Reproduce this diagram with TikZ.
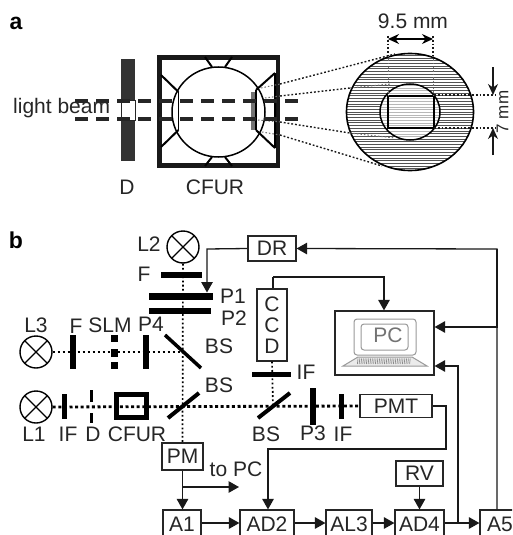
\documentclass[tikz,border=0pt]{standalone}
\usepackage{fontspec}
\setmainfont{Liberation Sans}
\usetikzlibrary{arrows.meta}
\tikzset{
  txt/.style={inner sep=0pt,font=\fontsize{21}{24}\selectfont,text=black!85},
  lab/.style={inner sep=0pt,font=\fontsize{23}{26}\bfseries\selectfont},
  box/.style={draw=black!85,line width=1.2pt,inner sep=0pt,font=\fontsize{21}{24}\selectfont,text=black!85},
  conn/.style={draw=black!90,line width=1.3pt},
  arr/.style={conn,-{Triangle[length=10.5pt,width=11.5pt]}},
  darr/.style={draw=black,line width=1.2pt,{Stealth[length=11pt,width=10pt]}-{Stealth[length=11pt,width=10pt]}},
  bar/.style={fill=black,draw=none,inner sep=0pt},
  lamp/.style={circle,draw=black,line width=1.4pt,minimum size=32pt,inner sep=0pt,
    path picture={\draw[line width=1.4pt] (path picture bounding box.south west)--(path picture bounding box.north east)
    (path picture bounding box.north west)--(path picture bounding box.south east);}},
  beam/.style={draw=black,line width=2.8pt,dash pattern=on 3pt off 2.6pt},
  vbeam/.style={draw=black,line width=1.7pt,dash pattern=on 1.8pt off 2.4pt},
  hbeam/.style={draw=black,line width=2.3pt,dash pattern=on 2.6pt off 2.4pt},
  dash beam/.style={draw=black!85,line width=3.6pt,dash pattern=on 13pt off 8pt},
  zoomline/.style={draw=black!90,line width=1.4pt,dash pattern=on 1.8pt off 2pt},
  thinzoom/.style={draw=black!55,line width=1pt,dash pattern=on 1.5pt off 2pt},
  mirror/.style={draw=black,line width=4.5pt},
  lap/.style={draw=black!40,line width=1pt},
}
\begin{document}
\begin{tikzpicture}[x=1pt,y=-1pt]
\useasboundingbox (0,0) rectangle (512,535);
\fill[white] (0,0) rectangle (512,535);
% ---------- panel a
\node[lab] (la) at (16,23) {a};
\node[txt,anchor=west] (lb) at (13,108) {light beam};
\node[txt] (tD) at (127,187) {D};
\node[txt] (tC) at (215,187) {CFUR};
% D plate
\fill[black!80] (121,59) rectangle (135,161);
\draw[black!85,line width=1pt,fill=white] (121,100) rectangle (135,120);
% CFUR box
\draw[black!90,line width=4.5pt] (159.5,57.5) rectangle (278,165.5);
\draw[black,line width=1.5pt] (218.5,112) ellipse (46.5 and 45);
\fill[black!55] (251,92) rectangle (256,130);
\draw[black,line width=2pt] (205,57)--(212,67) (232,57)--(225,67) (205,166)--(212,157) (232,166)--(225,157);
\draw[black,line width=2pt] (161,75)--(178.5,92) (161,147)--(178.5,130);
\draw[black,line width=2pt] (275,73)--(256,90) (275,148)--(256,130) (275,73)--(275,148);
\draw[black,line width=1.6pt] (178.5,92)--(178.5,130);
\draw[black,line width=1.4pt] (256,90)--(256,130);
% ellipse
\begin{scope}
\clip (410,112) ellipse (63.5 and 58.5);
\foreach \y in {50,52.7,...,175} \draw[black!68,line width=.9pt] (340,\y)--(480,\y);
\end{scope}
\begin{scope}
\clip (410,112) ellipse (30 and 28);
\fill[white] (375,80) rectangle (445,145);
\foreach \y in {80,82.7,...,145} \draw[black!28,line width=.9pt] (375,\y)--(445,\y);
\end{scope}
\draw[black,line width=1.6pt] (410,112) ellipse (63.5 and 58.5);
\draw[black,line width=1.5pt] (410,112) ellipse (30 and 28);
\draw[black,line width=1.7pt] (388,96) rectangle (434,128);
% dotted construction lines
\draw[zoomline] (280,84)--(395,54);
\draw[zoomline] (280,135)--(382,166);
\draw[zoomline] (280,96)--(350,88);
\draw[thinzoom] (350,88)--(390,84);
\draw[zoomline] (280,122)--(350,133);
\draw[thinzoom] (350,133)--(395,138);
\draw[thinzoom] (261,88)--(280,84) (265,98)--(280,96) (258,120)--(280,122) (262,132)--(280,135);
\draw[zoomline] (388,36)--(388,56) (433,36)--(433,56);
\draw[thinzoom] (388,56)--(388,95) (433,56)--(433,95);
\draw[zoomline] (434,95)--(495,95) (434,128)--(495,128);
\node[txt] (t95) at (413,21) {9.5 mm};
\coordinate (da) at (388,39);
\coordinate (db) at (433,39);
\draw[darr] (da)--(db);
\coordinate (ua) at (493,67);
\coordinate (ub) at (493,95);
\coordinate (va) at (493,155);
\coordinate (vb) at (493,128);
\draw[conn,-{Stealth[length=11pt,width=10pt]}] (ua)--(ub);
\draw[conn,-{Stealth[length=11pt,width=10pt]}] (va)--(vb);
\node[txt,rotate=90,font=\fontsize{17}{19}\selectfont] (t7) at (502.5,112) {7 mm};
% beams of panel a
\draw[dash beam] (75,101)--(298,101);
\draw[dash beam] (75,119)--(298,119);
% ---------- panel b
\node[lab] (lbb) at (16,240) {b};
\node[lamp] (L2) at (183,247) {};
\node[lamp] (L3) at (36,352) {};
\node[lamp] (L1) at (36,407) {};
\node[txt] (tL2) at (149,244) {L2};
\node[txt] (tL3) at (36,325) {L3};
\node[txt] (tL1) at (34,434) {L1};
% optical paths
\coordinate (bs1) at (183,352);
\coordinate (bs2) at (183,407);
\coordinate (bs3) at (273,407);
\node[box,minimum width=72pt,minimum height=23pt,fill=white] (PMT) at (396,406) {PMT};
\node[box,minimum width=41pt,minimum height=27pt] (PM) at (182.5,456.5) {PM};
\node[box,minimum width=30pt,minimum height=72pt,align=center,font=\fontsize{21}{21}\selectfont] (CCD) at (272,325) {C\\C\\D};
\draw[vbeam] (L2.south)--(PM.north);
\draw[hbeam] (L3.east)--(bs1);
\draw[beam] (L1.east)--(PMT.west);
\draw[vbeam] (CCD.south)--(bs3);
% optics
\node[bar,minimum width=41pt,minimum height=6pt] (F) at (181.5,275) {};
\node[bar,minimum width=64pt,minimum height=7pt] (P1) at (181,296) {};
\node[bar,minimum width=62pt,minimum height=6pt] (P2) at (180,311) {};
\node[txt] (tF) at (144,274) {F};
\node[txt] (tP1) at (233,296) {P1};
\node[txt] (tP2) at (234,318) {P2};
\node[bar,minimum width=6pt,minimum height=34pt] (F2) at (73,352) {};
\node[bar,minimum width=7pt,minimum height=7pt] (S1) at (114.5,338.5) {};
\node[bar,minimum width=7pt,minimum height=8pt] (S2) at (114.5,353) {};
\node[bar,minimum width=7pt,minimum height=7pt] (S3) at (114.5,365.5) {};
\node[bar,minimum width=6pt,minimum height=34pt] (P4) at (146,352) {};
\node[txt] (tF2) at (76,326) {F};
\node[txt] (tSLM) at (110,325) {SLM};
\node[txt] (tP4) at (151,324) {P4};
\draw[mirror,line width=3.5pt] (165,335)--(201,368);
\node[txt] (tBS1) at (219,346) {BS};
\node[txt] (tBS2) at (219,385) {BS};
\draw[mirror,line width=4pt] (168,418)--(199,393);
\draw[mirror,line width=4pt] (258,418)--(290,393);
\node[txt] (tBS3) at (266,434) {BS};
\node[bar,minimum width=5pt,minimum height=25pt] (IF1) at (64,406.5) {};
\draw[black,line width=2.6pt] (91.5,390)--(91.5,402) (91.5,413)--(91.5,423);
\draw[black,line width=5pt] (116.5,394.5) rectangle (146.5,417.5);
\node[txt] (tIF1) at (68,434) {IF};
\node[txt] (tD2) at (93,434) {D};
\node[txt] (tC2) at (137,434) {CFUR};
\node[bar,minimum width=39pt,minimum height=5pt] (IF2) at (271.5,374) {};
\node[txt] (tIF2) at (306,372) {IF};
\node[bar,minimum width=6pt,minimum height=37pt] (P3) at (313,406.5) {};
\node[bar,minimum width=5pt,minimum height=25pt] (IF3) at (341.5,406.5) {};
\node[txt] (tP3) at (313,433) {P3};
\node[txt] (tIF3) at (343,434) {IF};
% electronics
\node[box,minimum width=48pt,minimum height=25pt] (DR) at (272,248.5) {DR};
\node[box,minimum width=99pt,minimum height=64pt] (PC) at (384.5,343) {};
\node[box,minimum width=47pt,minimum height=25pt] (RV) at (419.5,473.5) {RV};
\begin{scope}
\clip (0,0) rectangle (512,535);
\node[box,minimum width=38pt,minimum height=28pt] (A1) at (182,524) {A1};
\node[box,minimum width=54pt,minimum height=28pt] (AD2) at (267,524) {AD2};
\node[box,minimum width=46pt,minimum height=28pt] (AL3) at (349,524) {AL3};
\node[box,minimum width=49pt,minimum height=28pt] (AD4) at (419.5,524) {AD4};
\node[box,minimum width=40pt,minimum height=28pt] (A5) at (500,524) {A5};
\end{scope}
\node[txt] (tPC) at (236,469) {to PC};
% laptop
\draw[lap,rounded corners=3pt] (354,319) rectangle (416,355);
\draw[lap,rounded corners=3pt] (361,324) rectangle (408,350);
\draw[lap,fill=black!8] (343,366) -- (358,357) -- (412,357) -- (427,366) -- cycle;
\foreach \x in {358,359.8,...,412} \draw[black!45,line width=.7pt] (\x,358.5)--(\x-.6,364);
\node[txt,text=black!55] (tlap) at (388,335) {PC};
% connectors
\coordinate (e1) at (497,249);
\coordinate (e2) at (497,327);
\coordinate (e3) at (458,366);
\coordinate (e4) at (458,523);
\coordinate (e5) at (207,249);
\coordinate (e6) at (207,292.5);
\coordinate (e7) at (273,277);
\coordinate (e8) at (384,277);
\coordinate (e9) at (446,406);
\coordinate (e10) at (446,449);
\coordinate (e11) at (268,449);
\coordinate (e12) at (183,487);
\coordinate (e13) at (239,487);
\draw[arr] (DR.west)--(e5)--(e6);
\draw[arr] (A5.north-|e1)--(e1)--(DR.east);
\draw[arr] (e1)--(e2)--(PC.east|-e2);
\draw[arr] (e4)--(e3)--(PC.east|-e3);
\draw[arr] (e7)--(e8)--(PC.north-|e8);
\draw[conn] (CCD.north-|e7)--(e7);
\draw[arr] (PMT.east)--(e9)--(e10)--(e11)--(AD2.north-|e11);
\draw[arr] (RV.south)--(AD4.north);
\draw[arr] (PM.south)--(A1.north-|PM.south);
\draw[arr] (e12)--(e13);
\draw[arr] (A1.east|-e4)--(AD2.west|-e4);
\draw[arr] (AD2.east|-e4)--(AL3.west|-e4);
\draw[arr] (AL3.east|-e4)--(AD4.west|-e4);
\draw[arr] (AD4.east|-e4)--(A5.west|-e4);
\end{tikzpicture}
\end{document}
